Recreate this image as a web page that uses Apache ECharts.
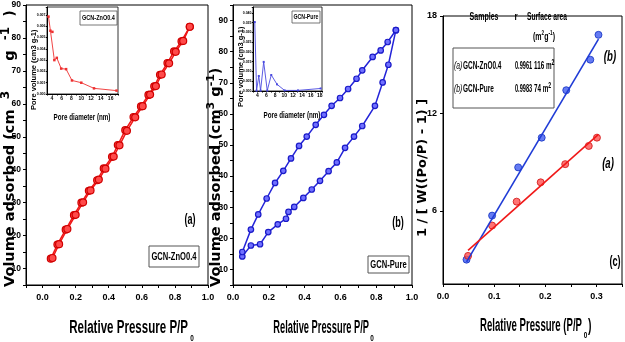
<!DOCTYPE html>
<html><head><meta charset="utf-8">
<script src="https://cdn.jsdelivr.net/npm/echarts@6/dist/echarts.min.js"></script>
<style>html,body{margin:0;padding:0;background:#fff}#c{width:625px;height:342px}</style>
</head><body><div id="c"></div>
<script>
// ---------- data ----------
// panel (a) GCN-ZnO0.4 isotherm
const aAdsP = [0.05,0.09,0.14,0.19,0.235,0.28,0.33,0.37,0.42,0.455,0.50,0.55,0.595,0.64,0.675,0.71,0.755,0.795,0.84,0.89];
const aAdsV = [13.0,17.3,21.8,26.2,30.0,33.6,36.8,40.4,43.9,47.5,52.0,56.0,59.2,62.7,65.3,68.8,72.4,75.9,79.0,83.4];
const aDesP = [0.06,0.10,0.15,0.20,0.245,0.29,0.34,0.38,0.43,0.465,0.51,0.56,0.605,0.65,0.685,0.72,0.765,0.805,0.85,0.89];
const aDesV = [13.2,17.4,22.0,26.3,30.1,33.7,37.0,40.3,44.0,47.4,51.8,55.9,59.3,62.8,65.4,68.9,72.3,75.8,79.1,83.4];
// inset (a) pore size distribution
const insetAD = [3.3,3.7,4.1,4.5,5.0,5.9,6.9,8.1,10.0,12.6,17.2];
const insetAV = [0.00685,0.0056,0.0055,0.0030,0.0032,0.00225,0.0022,0.0012,0.0010,0.0005,0.0003];
// panel (b) GCN-Pure isotherm
const bAdsP = [0.052,0.10,0.151,0.197,0.25,0.296,0.31,0.342,0.393,0.44,0.486,0.534,0.58,0.626,0.676,0.722,0.793,0.836,0.868,0.91];
const bAdsV = [14.2,17.7,18.1,22.0,24.5,26.3,28.5,30.1,33.0,35.7,38.5,41.6,44.4,49.1,52.7,56.1,62.6,70.1,75.8,86.9];
const bDesP = [0.91,0.864,0.825,0.78,0.722,0.69,0.643,0.598,0.551,0.508,0.462,0.412,0.369,0.324,0.281,0.235,0.188,0.141,0.10,0.052];
const bDesV = [86.9,83.1,80.4,78.3,74.0,71.3,68.0,65.1,62.6,59.7,56.5,52.7,49.7,45.7,41.7,37.8,32.8,27.7,22.8,15.6];
// inset (b)
const insetBD = [3.4,3.8,4.3,4.7,5.4,6.2,7.1,8.4,10.1,13.1,18.2];
const insetBV = [0.0353,0.0002,0.0077,0.0002,0.0149,0.0002,0.0082,0.0034,0.0003,0.0003,0.0013];
// panel (c) BET plots
const cBlueP = [0.046,0.096,0.147,0.193,0.241,0.288,0.304];
const cBlueV = [3.0,5.71,8.68,10.51,13.43,15.31,16.84];
const cBlueFitP = [0.046,0.304];
const cBlueFitV = [2.86,16.58];
const cRedP = [0.049,0.096,0.144,0.191,0.239,0.285,0.301];
const cRedV = [3.23,5.1,6.57,7.76,8.88,10.0,10.51];
const cRedFitP = [0.049,0.304];
const cRedFitV = [3.57,10.71];
// tick labels
const abXTicks = [0,0.2,0.4,0.6,0.8,1.0];
const abYTicks = [10,20,30,40,50,60,70,80,90];
const cXTicks = [0,0.1,0.2,0.3];
const cYTicks = [6,12,18];
const insetAXTicks = [4,6,8,10,12,14,16];
const insetAYTicks = [0,0.001,0.002,0.003,0.004,0.005,0.006,0.007];
const insetBXTicks = [4,6,8,10,12,14,16,18];
const insetBYTicks = [0,0.005,0.010,0.015,0.020,0.025,0.030,0.035,0.040];

// ---------- helpers ----------
const ARIAL = "'Liberation Sans','Arimo','DejaVu Sans',sans-serif";
const WIDE = "'DejaVu Sans','Liberation Sans',sans-serif";
const pairs = (xs, ys) => xs.map((x, i) => [x, ys[i]]);
const tickFmt = (ticks, dec) => v => {
  const t = ticks.find(t => Math.abs(t - v) < 1e-7);
  return t === undefined ? '' : t.toFixed(dec);
};
function axis(gi, min, max, interval, fmt, fs, margin, tickLen) {
  return {
    type: 'value', gridIndex: gi, min, max, interval,
    axisLine: {show: true, onZero: false, lineStyle: {color: '#000', width: 1}},
    axisTick: {show: true, inside: false, length: tickLen, lineStyle: {color: '#000', width: 1}},
    splitLine: {show: false},
    axisLabel: {formatter: fmt, fontSize: fs, fontFamily: ARIAL, fontWeight: 'bold', color: '#000', margin}
  };
}
const gb = (left, top, width, height, bw) => ({left, top, width, height, show: true, borderColor: '#000', borderWidth: bw || 1, backgroundColor: 'rgba(0,0,0,0)', containLabel: false});

function T(x, y, text, o) {
  o = o || {};
  return {
    type: 'text', x, y, rotation: o.rot || 0, scaleX: o.sx || 1, scaleY: o.sy || 1, z: 100,
    style: {
      text, fill: o.color || '#000',
      fontSize: o.fs || 10, fontFamily: o.fam || ARIAL,
      fontWeight: o.fw || 'bold', fontStyle: o.fst || 'normal',
      align: o.align || 'center', verticalAlign: o.va || 'middle',
      textAlign: o.align || 'center', textVerticalAlign: o.va || 'middle',
      rich: o.rich
    }
  };
}
const R = (x, y, w, h, stroke, lw) => ({type: 'rect', z: 99, shape: {x, y, width: w, height: h}, style: {fill: 'rgba(0,0,0,0)', stroke: stroke || '#333', lineWidth: lw || 1}});

const RED = '#f01818', BLUE = '#2424d8', BLUEC = '#1f3bd6';

const ytRich = (fs, sfs) => ({
  n: {fontSize: fs, fontFamily: WIDE, fontWeight: 'bold', lineHeight: fs + 6, verticalAlign: 'middle'},
  s: {fontSize: sfs, fontFamily: WIDE, fontWeight: 'bold', lineHeight: sfs, verticalAlign: 'top'}
});
const supRich = (fs, sfs) => ({
  n: {fontSize: fs, fontFamily: ARIAL, fontWeight: 'bold', lineHeight: fs + 4, verticalAlign: 'middle'},
  s: {fontSize: sfs, fontFamily: ARIAL, fontWeight: 'bold', lineHeight: sfs, verticalAlign: 'top'}
});

const option = {
  animation: false,
  backgroundColor: '#fff',
  grid: [
    gb(26, 5, 182, 280),
    gb(47, 7, 71, 87, 0.8),
    gb(233, 5, 179, 280),
    gb(253, 7, 69, 84, 0.8),
    gb(443, 16, 181, 268)
  ],
  xAxis: [
    axis(0, -0.1, 1.0, 0.1, tickFmt(abXTicks, 1), 9, 8, 3),
    axis(1, 3, 17.5, 1, tickFmt(insetAXTicks, 0), 5, 2.5, 1.5),
    axis(2, 0, 1.0, 0.1, tickFmt(abXTicks, 1), 9, 8, 3),
    axis(3, 3, 18.5, 1, tickFmt(insetBXTicks, 0), 5, 2.5, 1.5),
    axis(4, 0, 0.35, 0.05, tickFmt(cXTicks, 1), 9, 8, 3)
  ],
  yAxis: [
    axis(0, 5, 90, 5, tickFmt(abYTicks, 0), 8.5, 5, 3),
    axis(1, 0, 0.0077, 0.001, tickFmt(insetAYTicks, 3), 3.5, 1.5, 1.2),
    axis(2, 5, 95, 5, tickFmt(abYTicks, 0), 8.5, 5, 3),
    axis(3, 0, 0.043, 0.005, tickFmt(insetBYTicks, 3), 3.5, 1.5, 1.2),
    (function () {
      const a = axis(4, 1.5, 18, 1.5, tickFmt(cYTicks, 0), 9, 6, 3);
      a.axisTick.customValues = cYTicks;
      return a;
    })()
  ],
  series: [
    {type: 'line', name: 'a-ads', xAxisIndex: 0, yAxisIndex: 0, data: pairs(aAdsP, aAdsV),
      symbol: 'circle', symbolSize: 7, lineStyle: {color: RED, width: 1.5},
      itemStyle: {color: '#ff4a4a', borderColor: '#d00000', borderWidth: 1.2}},
    {type: 'line', name: 'a-des', xAxisIndex: 0, yAxisIndex: 0, data: pairs(aDesP, aDesV),
      symbol: 'circle', symbolSize: 7, lineStyle: {color: RED, width: 1.5},
      itemStyle: {color: '#ff4a4a', borderColor: '#d00000', borderWidth: 1.2}},
    {type: 'line', name: 'a-inset', xAxisIndex: 1, yAxisIndex: 1, data: pairs(insetAD, insetAV),
      symbol: 'rect', symbolSize: 2.5, lineStyle: {color: '#ee3030', width: 0.9},
      itemStyle: {color: '#ee3030'}},
    {type: 'line', name: 'b-ads', xAxisIndex: 2, yAxisIndex: 2, data: pairs(bAdsP, bAdsV),
      symbol: 'circle', symbolSize: 5.5, lineStyle: {color: BLUE, width: 1.5},
      itemStyle: {color: '#7070ff', borderColor: '#1a1ac8', borderWidth: 1.2}},
    {type: 'line', name: 'b-des', xAxisIndex: 2, yAxisIndex: 2, data: pairs(bDesP, bDesV),
      symbol: 'circle', symbolSize: 5.5, lineStyle: {color: BLUE, width: 1.5},
      itemStyle: {color: '#7070ff', borderColor: '#1a1ac8', borderWidth: 1.2}},
    {type: 'line', name: 'b-inset', xAxisIndex: 3, yAxisIndex: 3, data: pairs(insetBD, insetBV),
      symbol: 'rect', symbolSize: 2, lineStyle: {color: '#4a4ae0', width: 0.9},
      itemStyle: {color: '#4a4ae0'}},
    {type: 'line', name: 'c-blue-fit', xAxisIndex: 4, yAxisIndex: 4, data: pairs(cBlueFitP, cBlueFitV),
      symbol: 'none', lineStyle: {color: BLUEC, width: 1.6}},
    {type: 'line', name: 'c-red-fit', xAxisIndex: 4, yAxisIndex: 4, data: pairs(cRedFitP, cRedFitV),
      symbol: 'none', lineStyle: {color: RED, width: 1.6}},
    {type: 'scatter', name: 'c-blue', xAxisIndex: 4, yAxisIndex: 4, data: pairs(cBlueP, cBlueV),
      symbol: 'circle', symbolSize: 7, itemStyle: {color: '#3f5af0', borderColor: '#1030c0', borderWidth: 1}},
    {type: 'scatter', name: 'c-red', xAxisIndex: 4, yAxisIndex: 4, data: pairs(cRedP, cRedV),
      symbol: 'circle', symbolSize: 7, itemStyle: {color: '#ff5050', borderColor: '#d01010', borderWidth: 1}}
  ],
  graphic: [
    // y-axis titles (rotated, start at the bottom)
    T(10, 287, '{n|Volume adsorbed (cm  }{s|3}{n|      g  }{s|-1}{n|  )}', {rot: Math.PI / 2, align: 'left', rich: ytRich(14.5, 12)}),
    T(216, 287, '{n|Volume adsorbed (cm}{s|3}{n| g}{s|-1}{n|)}', {rot: Math.PI / 2, align: 'left', rich: ytRich(14.5, 11)}),
    T(423, 237, '1 / [ W((Po/P) - 1) ]', {rot: Math.PI / 2, align: 'left', fs: 13, fam: WIDE}),
    // x-axis titles
    T(188, 328, 'Relative Pressure P/P', {fs: 15, align: 'right', sx: 0.77, sy: 1.2}),
    T(192, 338, '0', {fs: 8, sx: 0.8, sy: 1.2}),
    T(369, 328, 'Relative Pressure P/P', {fs: 15, align: 'right', sx: 0.62, sy: 1.2}),
    T(372, 338, '0', {fs: 8, sx: 0.8, sy: 1.2}),
    T(582, 326, 'Relative Pressure (P/P', {fs: 15, align: 'right', sx: 0.64, sy: 1.2}),
    T(585.5, 335, '0', {fs: 8, sx: 0.8, sy: 1.2}),
    T(588, 326, ')', {fs: 15, align: 'left', sx: 0.7, sy: 1.2}),
    // inset titles
    T(34, 110, 'Pore volume (cm3 g-1)', {rot: Math.PI / 2, align: 'left', fs: 7.5}),
    T(82, 117, 'Pore diameter (nm)', {fs: 8, sx: 0.78, sy: 1.15}),
    T(241, 107, 'Pore volume (cm3 g-1)', {rot: Math.PI / 2, align: 'left', fs: 7.5}),
    T(292, 115, 'Pore diameter (nm)', {fs: 8, sx: 0.78, sy: 1.15}),
    // sample boxes
    R(149, 246, 50, 21, '#555', 1),
    T(174, 257, 'GCN-ZnO0.4', {fs: 9.5, sx: 0.8, sy: 1.2}),
    R(368, 256, 41, 17, '#555', 1),
    T(388.5, 265, 'GCN-Pure', {fs: 9.5, sx: 0.8, sy: 1.2}),
    R(80, 11, 37, 14, '#555', 0.8),
    T(98.5, 18, 'GCN-ZnO0.4', {fs: 6.5, sx: 0.85, sy: 1.15}),
    R(292, 11, 28, 12, '#555', 0.8),
    T(306, 17, 'GCN-Pure', {fs: 6, sx: 0.87, sy: 1.15}),
    // panel letters
    T(190, 220, '(a)', {fs: 13, sx: 0.7, sy: 1.15}),
    T(398, 223, '(b)', {fs: 13, sx: 0.7, sy: 1.15}),
    T(615, 262, '(c)', {fs: 13, sx: 0.7, sy: 1.15}),
    T(610, 57, '(b)', {fs: 12, fst: 'italic', sx: 0.8, sy: 1.15}),
    T(608, 164, '(a)', {fs: 12, fst: 'italic', sx: 0.8, sy: 1.15}),
    // panel (c) table
    T(484, 17, 'Samples', {fs: 9, sx: 0.78, sy: 1.3}),
    T(516, 17, 'r', {fs: 9, sx: 0.9, sy: 1.3}),
    T(547, 17, 'Surface area', {fs: 9, sx: 0.74, sy: 1.3}),
    T(544, 37, '{n|(m}{s|2}{n|g}{s|-1}{n|)}', {sx: 0.78, sy: 1.3, rich: supRich(9, 6)}),
    R(453, 48, 101, 60, '#555', 1),
    T(454, 66, '(a)', {fs: 8.5, fst: 'italic', fw: 'normal', align: 'left', sx: 0.8, sy: 1.3}),
    T(463, 66, 'GCN-ZnO0.4', {fs: 8.5, align: 'left', sx: 0.76, sy: 1.3}),
    T(515, 66, '0.9961', {fs: 8.5, align: 'left', sx: 0.66, sy: 1.3}),
    T(534, 66, '{n|116 m}{s|2}', {align: 'left', sx: 0.74, sy: 1.3, rich: supRich(8.5, 7)}),
    T(454, 89, '(b)', {fs: 8.5, fst: 'italic', fw: 'normal', align: 'left', sx: 0.8, sy: 1.3}),
    T(463, 89, 'GCN-Pure', {fs: 8.5, align: 'left', sx: 0.76, sy: 1.3}),
    T(515, 89, '0.9983', {fs: 8.5, align: 'left', sx: 0.66, sy: 1.3}),
    T(534, 89, '{n|74 m}{s|2}', {align: 'left', sx: 0.74, sy: 1.3, rich: supRich(8.5, 7)})
  ]
};
const chart = echarts.init(document.getElementById('c'));
chart.setOption(option);
</script>
</body></html>
